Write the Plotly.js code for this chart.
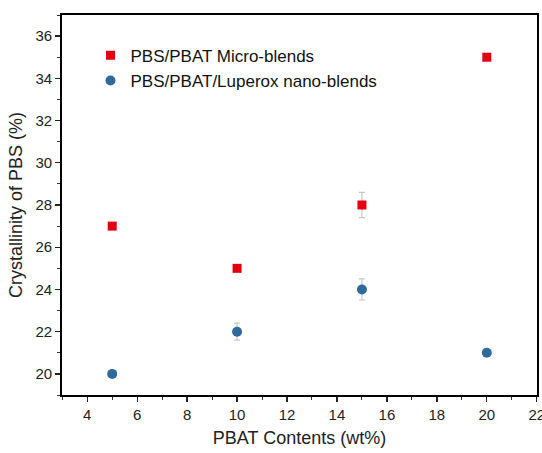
<!DOCTYPE html>
<html>
<head>
<meta charset="utf-8">
<script src="https://cdn.plot.ly/plotly-3.0.1.min.js"></script>
<style>html,body{margin:0;padding:0;background:#fff;}#chart{width:542px;height:453px;}</style>
</head>
<body>
<div id="chart"></div>
<script>
var pbatContent = [5, 10, 15, 20];
var microValues = [27, 25, 28, 35];
var microErrors = [0.1, 0.1, 0.6, 0.15];
var nanoValues = [20, 22, 24, 21];
var nanoErrors = [0.15, 0.4, 0.5, 0.15];
var seriesNames = ['PBS/PBAT Micro-blends', 'PBS/PBAT/Luperox nano-blends'];

var errStyle = function(arr){ return {type:'data', array:arr, visible:true, color:'#c8c8c8', thickness:1.2, width:3}; };

var traces = [
  {x: pbatContent, y: microValues, name: seriesNames[0], type:'scatter', mode:'markers',
   marker:{symbol:'square', size:9, color:'#e00010'}, error_y: errStyle(microErrors)},
  {x: pbatContent, y: nanoValues, name: seriesNames[1], type:'scatter', mode:'markers',
   marker:{symbol:'circle', size:10, color:'#2f6a9c'}, error_y: errStyle(nanoErrors)}
];

var fam = 'Liberation Sans, Arial, sans-serif';
var axisCommon = {
  showgrid:false, zeroline:false, showline:true, linecolor:'#000', linewidth:1.8, mirror:true,
  ticks:'outside', ticklen:5, tickwidth:1.3, tickcolor:'#222',
  tickfont:{family:fam, size:15, color:'#222'}, ticklabeloverflow:'allow',
  minor:{ticks:'outside', ticklen:3, tickwidth:1, tickcolor:'#333', dtick:1}
};

var layout = {
  width:542, height:453,
  margin:{l:62, r:5, t:15, b:58},
  paper_bgcolor:'#fff', plot_bgcolor:'#fff',
  showlegend:true,
  legend:{x:0.06, y:0.94, xanchor:'left', yanchor:'top', bgcolor:'rgba(0,0,0,0)',
          font:{family:fam, size:17, color:'#111'}},
  xaxis: Object.assign({}, axisCommon, {range:[2.99, 22.01], dtick:2, tick0:0,
    title:{text:'PBAT Contents (wt%)', standoff:10, font:{family:fam, size:18, color:'#222'}}}),
  yaxis: Object.assign({}, axisCommon, {range:[19,37], dtick:2, tick0:0,
    title:{text:'Crystallinity of PBS (%)', standoff:8, font:{family:fam, size:18, color:'#222'}}})
};

Plotly.newPlot('chart', traces, layout, {displayModeBar:false, staticPlot:true});
</script>
</body>
</html>
